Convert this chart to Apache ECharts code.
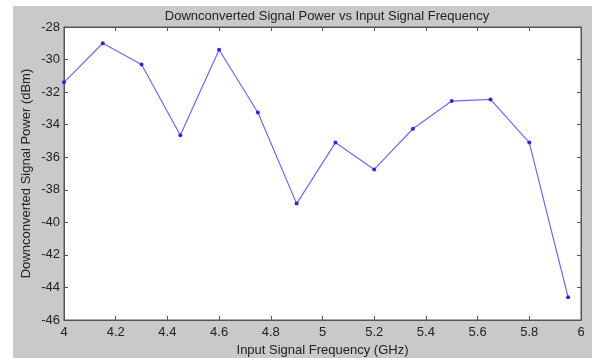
<!DOCTYPE html>
<html>
<head>
<meta charset="utf-8">
<script src="https://cdn.jsdelivr.net/npm/echarts@6/dist/echarts.min.js"></script>
<style>
  html, body { margin: 0; padding: 0; background: #fff; }
  #main { width: 592px; height: 358px; }
</style>
</head>
<body>
<div id="main"></div>
<script>
// input frequency (GHz) and measured downconverted power (dBm)
var freqs = [4, 4.15, 4.3, 4.45, 4.6, 4.75, 4.9, 5.05, 5.2, 5.35, 5.5, 5.65, 5.8, 5.95];
var power = [-31.4, -29.0, -30.3, -34.65, -29.4, -33.25, -38.85, -35.1, -36.75, -34.25, -32.55, -32.45, -35.1, -44.6];

var chart = echarts.init(document.getElementById('main'));

var points = freqs.map(function (f, i) { return [f, power[i]]; });
var font = 'Arial, "Liberation Sans", sans-serif';

chart.setOption({
    animation: false,
    backgroundColor: '#fff',
    graphic: [{
        type: 'rect',
        z: -10,
        shape: { x: 13, y: 6, width: 600, height: 360 },
        style: { fill: '#c9c9c9' }
    }],
    title: {
        text: 'Downconverted Signal Power vs Input Signal Frequency',
        left: 322,
        textAlign: 'center',
        top: 5,
        textStyle: { fontFamily: font, fontSize: 13, fontWeight: 'normal', color: '#222' }
    },
    grid: {
        left: 64, top: 27, right: 11, bottom: 38,
        outerBoundsMode: 'none',
        show: true, backgroundColor: '#fff', borderColor: '#555', borderWidth: 1
    },
    xAxis: [{
        type: 'value', min: 4, max: 6, interval: 0.2,
        name: 'Input Signal Frequency (GHz)', nameLocation: 'middle', nameGap: 21,
        nameTextStyle: { fontFamily: font, fontSize: 13, color: '#222' },
        axisLine: { lineStyle: { color: '#555' } },
        axisTick: { inside: true, length: 4, lineStyle: { color: '#555' } },
        axisLabel: { fontFamily: font, fontSize: 13, color: '#222', margin: 6,
            formatter: function (v) { return +v.toFixed(1) + ''; } },
        splitLine: { show: false }
    }, {
        type: 'value', min: 4, max: 6, interval: 0.2, position: 'top',
        axisLine: { lineStyle: { color: '#555' } },
        axisTick: { inside: true, length: 4, lineStyle: { color: '#555' } },
        axisLabel: { show: false }, splitLine: { show: false }
    }],
    yAxis: [{
        type: 'value', min: -46, max: -28, interval: 2,
        name: 'Downconverted Signal Power (dBm)', nameLocation: 'middle', nameGap: 31,
        nameMoveOverlap: false,
        nameTextStyle: { fontFamily: font, fontSize: 13, color: '#222' },
        axisLine: { show: true, lineStyle: { color: '#555' } },
        axisTick: { show: true, inside: true, length: 4, lineStyle: { color: '#555' } },
        axisLabel: { fontFamily: font, fontSize: 13, color: '#222', margin: 4 },
        splitLine: { show: false }
    }, {
        type: 'value', min: -46, max: -28, interval: 2, position: 'right',
        axisLine: { show: true, lineStyle: { color: '#555' } },
        axisTick: { show: true, inside: true, length: 4, lineStyle: { color: '#555' } },
        axisLabel: { show: false }, splitLine: { show: false }
    }],
    series: [{
        type: 'line',
        data: points,
        symbol: 'circle',
        symbolSize: 4,
        lineStyle: { color: '#6b6bea', width: 1.2 },
        itemStyle: { color: '#2a2ad8' }
    }]
});
</script>
</body>
</html>
